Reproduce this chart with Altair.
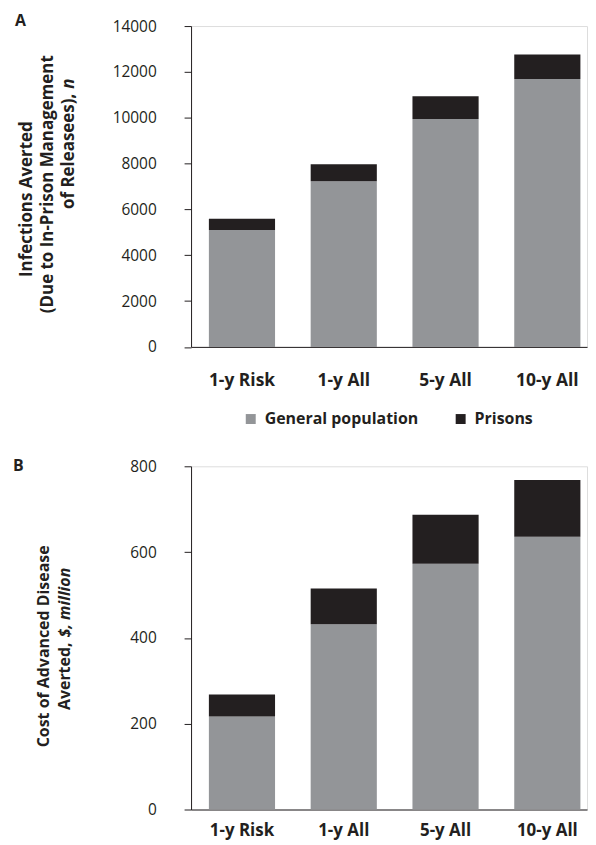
import altair as alt
import pandas as pd

categories = ["1-y Risk", "1-y All", "5-y All", "10-y All"]
series = ["General population", "Prisons"]
infections_general = [5100, 7230, 9950, 11690]
infections_prisons = [490, 740, 990, 1070]
cost_general = [217, 432, 573, 636]
cost_prisons = [51, 83, 114, 132]
ticks_a = [0, 2000, 4000, 6000, 8000, 10000, 12000, 14000]
ticks_b = [0, 200, 400, 600, 800]
title_a = ["Infections Averted", "(Due to In-Prison Management", "of Releasees),", "n"]
title_b = ["Cost of Advanced Disease", "Averted,", "$, million"]
panel_letters = ["A", "B"]

INK = "#231f20"
GRAY = "#939598"
FONT = "Open Sans"


def long_table(gen, pri):
    rows = []
    for c, g, p in zip(categories, gen, pri):
        rows.append({"cat": c, "series": series[0], "ord": 0, "value": g})
        rows.append({"cat": c, "series": series[1], "ord": 1, "value": p})
    return pd.DataFrame(rows)


def txt(s, x, y, angle=270, align="center", italic=False, size=16, weight="bold"):
    props = dict(font=FONT, fontSize=size, fontWeight=weight, color=INK,
                 angle=angle, align=align, baseline="middle")
    if italic:
        props["fontStyle"] = "italic"
    return alt.Chart(pd.DataFrame({"label": [s]})).mark_text(**props).encode(
        x=alt.value(x), y=alt.value(y), text="label:N")


def x_enc(pad, size):
    return alt.X("cat:N", sort=categories,
                 scale=alt.Scale(paddingInner=0.35, paddingOuter=0.12, align=0.73),
                 axis=alt.Axis(title=None, labelAngle=0, ticks=False, tickSize=0,
                               labelPadding=pad, labelFontSize=size, labelFontWeight="bold",
                               labelFont=FONT, labelColor=INK, domainColor=INK,
                               domainWidth=1))


def y_enc(dmax, vals):
    return alt.Y("value:Q", stack="zero",
                 scale=alt.Scale(domain=[0, dmax], nice=False),
                 axis=alt.Axis(title=None, values=vals, format="d", grid=False,
                               tickSize=7, tickColor=INK, tickWidth=1, domainColor=INK,
                               domainWidth=1, labelPadding=28, labelFontSize=15.5,
                               labelFont=FONT, labelColor=INK))


color_scale = alt.Scale(domain=series, range=[GRAY, INK])

bars_a = alt.Chart(long_table(infections_general, infections_prisons)).mark_bar().encode(
    x=x_enc(25, 17.5),
    y=y_enc(14000, ticks_a),
    color=alt.Color("series:N", scale=color_scale, sort=series,
                    legend=alt.Legend(title=None, orient="none", direction="horizontal",
                                      legendX=52, legendY=387, symbolType="square",
                                      symbolSize=100, symbolStrokeWidth=0,
                                      labelFont=FONT, labelFontSize=16,
                                      labelFontWeight="bold", labelColor=INK,
                                      labelOffset=6, columnPadding=34, padding=0)),
    order=alt.Order("ord:Q", sort="ascending"),
)

panel_a = alt.layer(
    bars_a,
    txt(panel_letters[0], -177, -5, angle=0, align="left", size=16, weight="bold"),
    txt(title_a[0], -165, 174, size=17),
    txt(title_a[1], -144, 159, size=17),
    txt(title_a[2], -123, 68, align="right", size=17),
    txt(title_a[3], -123, 63, align="left", italic=True, size=17),
).properties(width=398, height=322.5)

bars_b = alt.Chart(long_table(cost_general, cost_prisons)).mark_bar().encode(
    x=x_enc(13, 17),
    y=y_enc(800, ticks_b),
    color=alt.Color("series:N", scale=color_scale, sort=series, legend=None),
    order=alt.Order("ord:Q", sort="ascending"),
)

panel_b = alt.layer(
    bars_b,
    txt(panel_letters[1], -179, 0, angle=0, align="left", size=16, weight="bold"),
    txt(title_b[0], -148, 181),
    txt(title_b[1], -127, 245, align="left"),
    txt(title_b[2], -127, 102, align="right", italic=True),
).properties(width=398, height=345)

chart = alt.vconcat(panel_a, panel_b, spacing=119.5, bounds="flush").resolve_scale(
    y="independent"
).properties(
    padding={"left": 4, "top": 2, "right": 0, "bottom": 0}
).configure_view(stroke=None).configure(font=FONT)

chart.save("out.html", embed_options={"renderer": "svg", "actions": False})
